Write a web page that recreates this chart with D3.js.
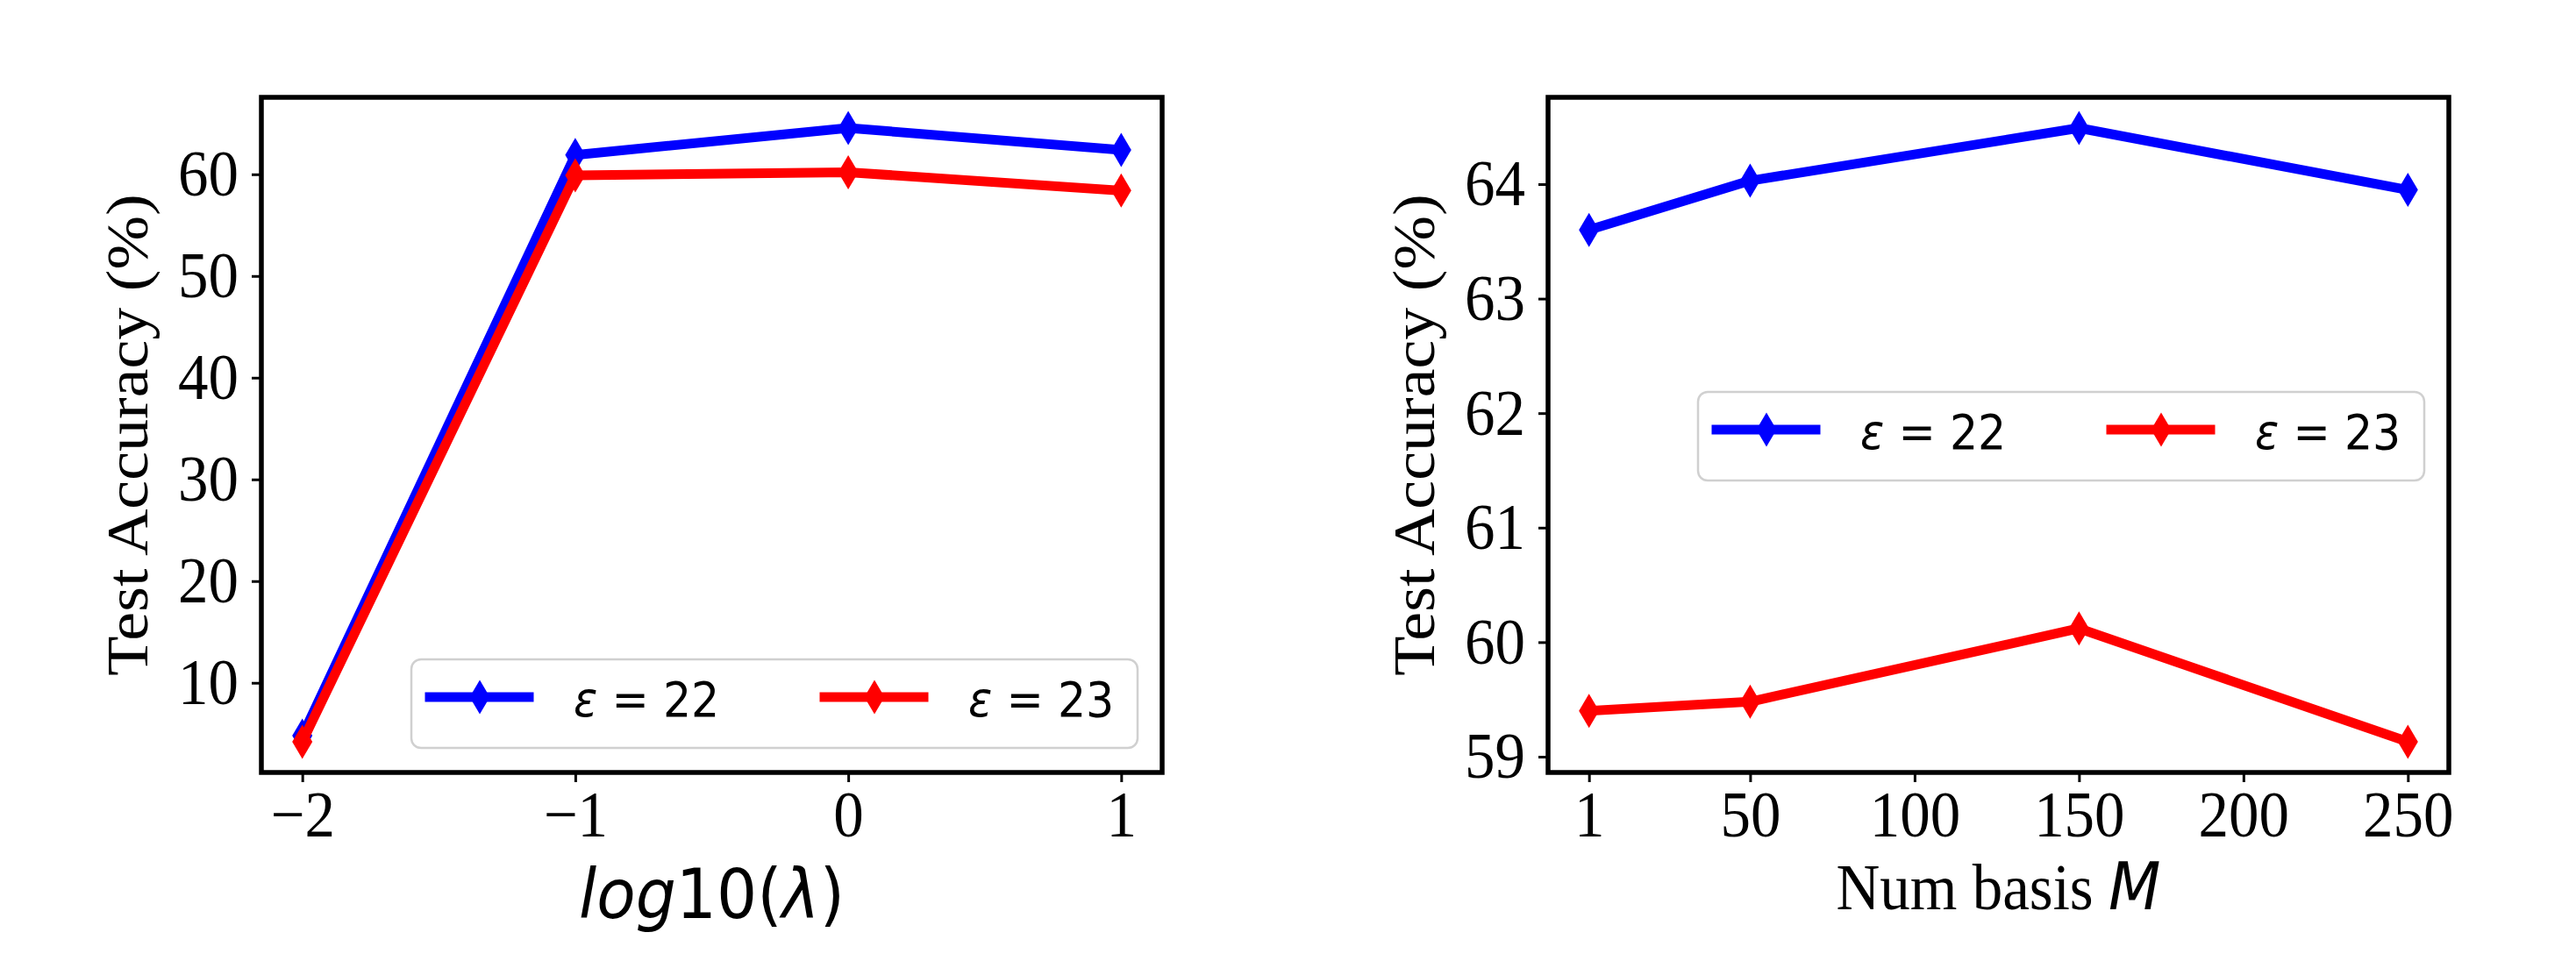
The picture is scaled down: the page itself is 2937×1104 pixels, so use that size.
<!DOCTYPE html>
<html>
<head>
<meta charset="utf-8">
<script src="https://cdn.jsdelivr.net/npm/d3@7"></script>
<style>
    body { margin: 0; background: #fff; }
</style>
</head>
<body>
<svg id="chart"></svg>
<script>
// левый график: точность от log10(lambda)
let lambdaX = [-2, -1, 0, 1];
let lambdaEps22 = [4.8, 61.9, 64.55, 62.4];
let lambdaEps23 = [4.2, 59.9, 60.2, 58.4];
let lambdaXTicks = [-2, -1, 0, 1];
let lambdaXTickLabels = ["\u22122", "\u22121", "0", "1"];
let lambdaYTicks = [10, 20, 30, 40, 50, 60];

// правый график: точность от числа базисов M
let basisX = [1, 50, 150, 250];
let basisEps22 = [63.60, 64.03, 64.49, 63.95];
let basisEps23 = [59.40, 59.48, 60.12, 59.13];
let basisXTicks = [1, 50, 100, 150, 200, 250];
let basisYTicks = [59, 60, 61, 62, 63, 64];

let seriesNames = ["22", "23"];
let seriesColors = ["#0000ff", "#ff0000"];

let width = 2937;
let height = 1104;
let serif = "'Liberation Serif', 'Times New Roman', serif";
let sans = "'DejaVu Sans', sans-serif";
let squeeze = 0.92; // картинка в оригинале чуть сжата по горизонтали

let svg = d3.select("#chart")
    .attr("width", width)
    .attr("height", height)
    .style("display", "block");

svg.append("rect")
    .attr("width", width)
    .attr("height", height)
    .attr("fill", "#fff");

// отступ 5% как в matplotlib
function padded(values) {
    let ext = d3.extent(values);
    let m = (ext[1] - ext[0]) * 0.05;
    return [ext[0] - m, ext[1] + m];
}

// тонкий ромб (маркер 'd')
let diamond = "M0,-19.5L11.5,0L0,19.5L-11.5,0Z";

function drawPanel(opts) {
    let left = opts.left, right = opts.left + 1027;
    let top = 111, bottom = 881;

    let scaleX = d3.scaleLinear()
        .domain(padded(opts.x))
        .range([left, right]);
    let scaleY = d3.scaleLinear()
        .domain(padded(opts.series[0].concat(opts.series[1])))
        .range([bottom, top]);

    let g = svg.append("g");

    let axisX = d3.axisBottom(scaleX)
        .tickValues(opts.xTicks)
        .tickFormat((d, i) => opts.xLabels[i])
        .tickSize(11)
        .tickPadding(9);
    let axisY = d3.axisLeft(scaleY)
        .tickValues(opts.yTicks)
        .tickFormat(d3.format("d"))
        .tickSize(11)
        .tickPadding(15);

    let gx = g.append("g")
        .attr("transform", `translate(0, ${bottom})`)
        .call(axisX);
    let gy = g.append("g")
        .attr("transform", `translate(${left}, 0)`)
        .call(axisY);

    [gx, gy].forEach(a => {
        a.select(".domain").remove();
        a.selectAll(".tick line").attr("stroke", "#000").attr("stroke-width", 3);
        a.selectAll(".tick text")
            .attr("fill", "#000")
            .attr("transform", `scale(${squeeze}, 1)`)
            .style("font-family", serif)
            .style("font-size", "75px");
    });
    gy.selectAll(".tick text").attr("x", -26 / squeeze);

    let lineF = d3.line()
        .x((d, i) => scaleX(opts.x[i]))
        .y(d => scaleY(d));

    opts.series.forEach((vals, k) => {
        g.append("path")
            .datum(vals)
            .attr("d", lineF)
            .attr("fill", "none")
            .attr("stroke", seriesColors[k])
            .attr("stroke-width", 11)
            .attr("stroke-linejoin", "round")
            .attr("stroke-linecap", "square");
        g.selectAll(null)
            .data(vals)
            .enter()
            .append("path")
            .attr("d", diamond)
            .attr("transform", (d, i) => `translate(${scaleX(opts.x[i])}, ${scaleY(d)})`)
            .attr("fill", seriesColors[k]);
    });

    // рамка осей
    g.append("rect")
        .attr("x", left)
        .attr("y", top)
        .attr("width", right - left)
        .attr("height", bottom - top)
        .attr("fill", "none")
        .attr("stroke", "#000")
        .attr("stroke-width", 5.5);

    // подпись оси Y
    g.append("text")
        .attr("transform", `translate(${left - 130}, ${(top + bottom) / 2}) scale(${squeeze}, 1) rotate(-90)`)
        .attr("text-anchor", "middle")
        .style("font-family", serif)
        .style("font-size", "74px")
        .text("Test Accuracy (%)");

    // подпись оси X (куски: шрифт, наклон)
    let xl = g.append("text")
        .attr("transform", `translate(${(left + right) / 2}, ${opts.xLabelY}) scale(${squeeze}, 1)`)
        .attr("text-anchor", "middle");
    opts.xLabel.forEach(part => {
        xl.append("tspan")
            .style("font-family", part.serif ? serif : sans)
            .style("font-style", part.it ? "italic" : "normal")
            .style("font-size", part.size + "px")
            .text(part.t);
    });

    // легенда
    let lw = 828, lh = 101;
    let lx = right - 28 - lw;
    let ly = opts.legendY;
    let leg = g.append("g").attr("transform", `translate(${lx}, ${ly})`);
    leg.append("rect")
        .attr("width", lw)
        .attr("height", lh)
        .attr("rx", 11)
        .attr("fill", "#fff")
        .attr("fill-opacity", 0.8)
        .attr("stroke", "#d0d0d0")
        .attr("stroke-width", 2.5);

    seriesNames.forEach((name, k) => {
        let ox = k * 450;
        leg.append("line")
            .attr("x1", ox + 21)
            .attr("x2", ox + 134)
            .attr("y1", 43)
            .attr("y2", 43)
            .attr("stroke", seriesColors[k])
            .attr("stroke-width", 11)
            .attr("stroke-linecap", "square");
        leg.append("path")
            .attr("d", diamond)
            .attr("transform", `translate(${ox + 78}, 43)`)
            .attr("fill", seriesColors[k]);
        let t = leg.append("text")
            .attr("transform", `translate(${ox + 185}, 65) scale(${squeeze}, 1)`)
            .style("font-family", sans)
            .style("font-size", "55px");
        t.append("tspan").style("font-style", "italic").text("\u03b5");
        t.append("tspan").text(" = " + name);
    });
}

drawPanel({
    left: 298,
    x: lambdaX,
    series: [lambdaEps22, lambdaEps23],
    xTicks: lambdaXTicks,
    xLabels: lambdaXTickLabels,
    yTicks: lambdaYTicks,
    xLabel: [
        {t: "log", it: true, size: 79},
        {t: "10(", it: false, size: 79},
        {t: "\u03bb", it: true, size: 79},
        {t: ")", it: false, size: 79}
    ],
    xLabelY: 1047,
    legendY: 752
});

drawPanel({
    left: 1765,
    x: basisX,
    series: [basisEps22, basisEps23],
    xTicks: basisXTicks,
    xLabels: basisXTicks.map(String),
    yTicks: basisYTicks,
    xLabel: [
        {t: "Num basis ", serif: true, it: false, size: 75},
        {t: "M", it: true, size: 75}
    ],
    xLabelY: 1037,
    legendY: 447
});
</script>
</body>
</html>
